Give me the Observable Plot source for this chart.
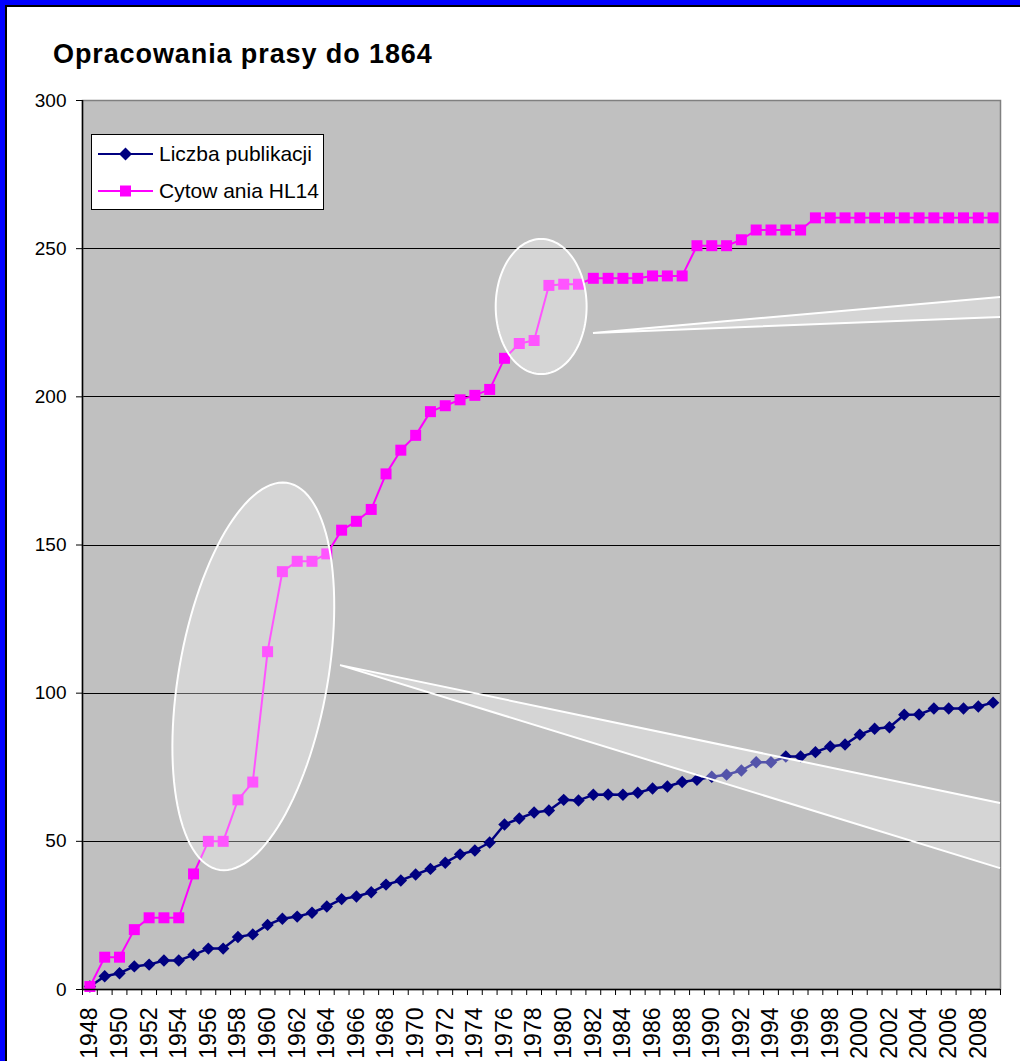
<!DOCTYPE html>
<html>
<head>
<meta charset="utf-8">
<script src="https://cdn.jsdelivr.net/npm/d3@7"></script>
<script src="https://cdn.jsdelivr.net/npm/@observablehq/plot@0.6"></script>
<style>
  html, body { margin: 0; padding: 0; background: #fff; overflow: hidden; }
  #page { position: relative; width: 1020px; height: 1061px; overflow: hidden; background: #fff; font-family: 'Liberation Sans', Arial, sans-serif; }
  #chart { position: absolute; left: 0; top: 0; }
  #title { position: absolute; left: 53px; top: 41px; font-size: 27px; line-height: 27px; font-weight: bold; letter-spacing: 0.9px; color: #000; white-space: nowrap; }
  #legend { position: absolute; left: 91px; top: 134px; }
  .bar { position: absolute; }
</style>
</head>
<body>
<div id="page">
  <div id="chart"></div>
  <div id="title"></div>
  <div id="legend"></div>
  <div class="bar" style="left:0;top:0;width:5px;height:1061px;background:#0000ff"></div>
  <div class="bar" style="left:0;top:0;width:1020px;height:5px;background:#0000ff"></div>
  <div class="bar" style="left:5px;top:5px;width:2px;height:1056px;background:#000"></div>
  <div class="bar" style="left:5px;top:5px;width:1015px;height:2px;background:#000"></div>
</div>
<script>
const titleText = "Opracowania prasy do 1864";
const seriesNames = ["Liczba publikacji", "Cytow ania HL14"];
const seriesColors = ["#000080", "#FF00FF"];

const years = [1948,1949,1950,1951,1952,1953,1954,1955,1956,1957,
  1958,1959,1960,1961,1962,1963,1964,1965,1966,1967,
  1968,1969,1970,1971,1972,1973,1974,1975,1976,1977,
  1978,1979,1980,1981,1982,1983,1984,1985,1986,1987,
  1988,1989,1990,1991,1992,1993,1994,1995,1996,1997,
  1998,1999,2000,2001,2002,2003,2004,2005,2006,2007,
  2008,2009];

const publications = [1,4.5,5.5,7.8,8.4,9.8,9.8,11.7,13.8,13.8,
  17.7,18.6,21.8,23.9,24.6,25.9,28,30.5,31.4,32.8,
  35.4,36.8,38.8,40.7,42.8,45.6,46.9,49.6,55.7,57.7,
  59.7,60.4,64,63.8,65.7,65.8,65.7,66.4,67.8,68.5,
  70,70.8,71.8,72.5,73.9,76.7,76.7,78.6,78.6,80.1,
  82,82.7,86,88,88.5,92.7,92.8,94.8,94.8,94.8,
  95.5,96.8];

const citations = [1,10.9,10.9,20.2,24.2,24.2,24.2,39,50,50,
  64,70,114,141,144.5,144.5,147,155,158,162,
  174,182,187,195,197,199,200.5,202.5,213,218,
  219,237.6,238,238,240,240,240,240,240.8,240.8,
  240.8,251,251,251,253,256.3,256.3,256.3,256.3,260.4,
  260.4,260.4,260.4,260.4,260.4,260.4,260.4,260.4,260.4,260.4,
  260.4,260.4];

const yTicks = [0,50,100,150,200,250,300];
const xLabelYears = [1948,1950,1952,1954,1956,1958,1960,1962,1964,1966,1968,1970,
  1972,1974,1976,1978,1980,1982,1984,1986,1988,1990,1992,1994,1996,1998,2000,
  2002,2004,2006,2008];

// highlight annotations, in data units (year, value)
const ellipseCenters = [[1959.07,105.5],[1978.51,230.3]];
const ellipseTops = [[1961.06,170.9],[1978.51,253.1]];
const ellipseHalfWidthYears = [5.09,3.07];
const calloutTips = [[1964.93,109.3],[1982.01,221.4]];
const calloutEnds = [[2009.5,62.8,40.8],[2009.5,233.5,226.8]];

const pubData = years.map((year, i) => ({year, value: publications[i]}));
const citData = years.map((year, i) => ({year, value: citations[i]}));
const boundaries = years.map(y => y - 0.5).concat([years[years.length - 1] + 0.5]);

function overlays(index, scales) {
  const x = scales.x, y = scales.y;
  const g = d3.create("svg:g");
  const overlayFill = "rgba(255,255,255,0.33)";
  ellipseCenters.forEach((c, i) => {
    const cx = x(c[0]), cy = y(c[1]);
    const vx = x(ellipseTops[i][0]) - cx, vy = y(ellipseTops[i][1]) - cy;
    const ux = x(c[0] + ellipseHalfWidthYears[i]) - cx;
    const pts = d3.range(0, 360, 3).map(t => {
      const r = t * Math.PI / 180;
      return [cx + ux * Math.cos(r) + vx * Math.sin(r), cy + vy * Math.sin(r)];
    });
    g.append("path").attr("d", d3.line()(pts) + "Z")
      .attr("fill", overlayFill).attr("stroke", "#fff").attr("stroke-width", 2);
  });
  calloutTips.forEach((t, i) => {
    const tx = x(t[0]), ty = y(t[1]);
    const ex = x(calloutEnds[i][0]), eu = y(calloutEnds[i][1]), el = y(calloutEnds[i][2]);
    g.append("path").attr("d", `M${tx},${ty}L${ex},${eu}L${ex},${el}Z`).attr("fill", overlayFill);
    g.append("path").attr("d", `M${ex},${eu}L${tx},${ty}L${ex},${el}`)
      .attr("fill", "none").attr("stroke", "#fff").attr("stroke-width", 2);
  });
  return g.node();
}

const chart = Plot.plot({
  width: 1020,
  height: 1100,
  marginLeft: 82,
  marginRight: 20,
  marginTop: 100,
  marginBottom: 111,
  style: {fontFamily: "'Liberation Sans', Arial, sans-serif", fontSize: "19px", color: "#000", background: "transparent", overflow: "visible"},
  x: {type: "linear", domain: [boundaries[0], boundaries[boundaries.length - 1]]},
  y: {domain: [yTicks[0], yTicks[yTicks.length - 1]]},
  marks: [
    Plot.frame({fill: "#C0C0C0"}),
    Plot.ruleY(yTicks.slice(1, -1), {stroke: "#000", strokeWidth: 1, shapeRendering: "crispEdges"}),
    Plot.frame({stroke: "#808080", strokeWidth: 1.5}),
    Plot.line(pubData, {x: "year", y: "value", stroke: seriesColors[0], strokeWidth: 2.5}),
    Plot.dot(pubData, {x: "year", y: "value", symbol: "diamond2", r: 5.6, fill: seriesColors[0], stroke: "none"}),
    Plot.line(citData, {x: "year", y: "value", stroke: seriesColors[1], strokeWidth: 2}),
    Plot.dot(citData, {x: "year", y: "value", symbol: "square", r: 6.2, fill: seriesColors[1], stroke: "none"}),
    overlays,
    Plot.ruleX([boundaries[0]], {stroke: "#000", strokeWidth: 1.5}),
    Plot.ruleY([yTicks[0]], {stroke: "#000", strokeWidth: 1.5}),
    Plot.axisY(yTicks, {tickSize: 6, tickPadding: 10, label: null, fontSize: 19}),
    Plot.axisX(boundaries, {tickSize: 6, tickFormat: () => "", label: null}),
    Plot.axisX(xLabelYears, {tickSize: 0, tickPadding: 18, tickRotate: -90, tickFormat: d => String(d), label: null, fontSize: 23})
  ]
});
document.getElementById("chart").appendChild(chart);
document.getElementById("title").textContent = titleText;

// legend
const legendSvg = d3.create("svg").attr("width", 234).attr("height", 77)
  .style("font-family", "'Liberation Sans', Arial, sans-serif");
legendSvg.append("rect").attr("x", 0.5).attr("y", 0.5).attr("width", 232).attr("height", 75)
  .attr("fill", "#fff").attr("stroke", "#000").attr("stroke-width", 1);
const rowsY = [20, 57];
seriesNames.forEach((name, i) => {
  const yy = rowsY[i];
  legendSvg.append("line").attr("x1", 7).attr("x2", 62).attr("y1", yy).attr("y2", yy)
    .attr("stroke", seriesColors[i]).attr("stroke-width", 2);
  if (i === 0) {
    legendSvg.append("path").attr("d", `M34.5,${yy-6.5}L41,${yy}L34.5,${yy+6.5}L28,${yy}Z`).attr("fill", seriesColors[i]);
  } else {
    legendSvg.append("rect").attr("x", 29).attr("y", yy - 5.5).attr("width", 11).attr("height", 11).attr("fill", seriesColors[i]);
  }
  legendSvg.append("text").attr("x", 68).attr("y", yy + 6.5).attr("font-size", 21).attr("fill", "#000").text(name);
});
document.getElementById("legend").appendChild(legendSvg.node());
</script>
</body>
</html>
